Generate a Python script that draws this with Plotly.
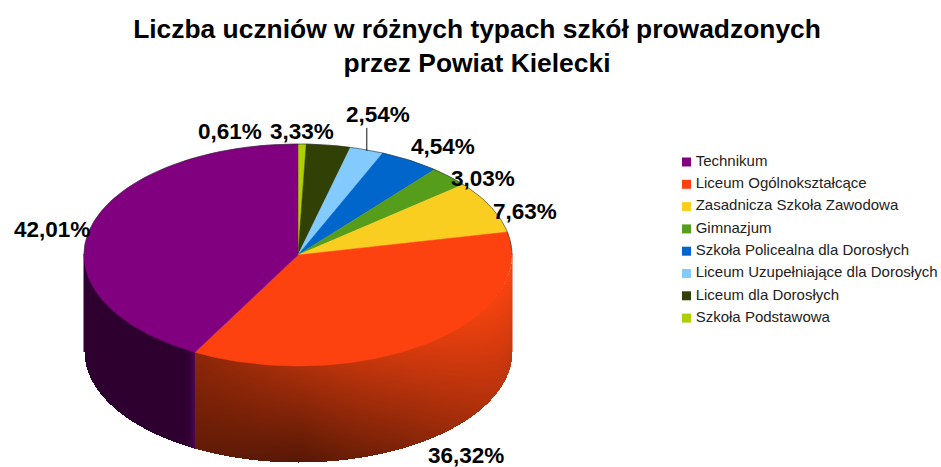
import numpy as np
import plotly.graph_objects as go

title = "Liczba uczniów w różnych typach szkół prowadzonych<br>przez Powiat Kielecki"
categories = ["Szkoła Podstawowa", "Liceum dla Dorosłych", "Liceum Uzupełniające dla Dorosłych",
              "Szkoła Policealna dla Dorosłych", "Gimnazjum", "Zasadnicza Szkoła Zawodowa",
              "Liceum Ogólnokształcące", "Technikum"]
values = [0.61, 3.33, 2.54, 4.54, 3.03, 7.63, 36.32, 42.01]
value_labels = ["0,61%", "3,33%", "2,54%", "4,54%", "3,03%", "7,63%", "36,32%", "42,01%"]
colors = ["#AECF00", "#314004", "#83CAFF", "#0066CC", "#579D1C", "#F9CE20", "#FD4210", "#800080"]

W, H = 941, 467
CX, CY, RX, RY, DEPTH = 298.0, 255.0, 214.0, 111.0, 96.0
label_pos = [(230, 131), (302, 131), (378, 114), (443, 146), (483, 178), (525, 211), (466, 455), (52, 229)]
LEG_X, LEG_TX, LEG_Y0, LEG_DY = 686.5, 695.7, 162, 22.3

def px(t):
    return CX + RX * np.sin(t)
def py(t):
    return CY - RY * np.cos(t)

fracs = np.array(values) / sum(values)
edges = np.concatenate([[0], np.cumsum(fracs)]) * 2 * np.pi
fig = go.Figure()

# side wall: shading field rendered through heatmaps, masked to the wall's outline
gx = np.arange(np.floor(CX - RX), np.ceil(CX + RX) + 1)
gy = np.arange(np.floor(CY) - 2, H + 1)
XX, YY = np.meshgrid(gx, gy)
U = np.clip((XX - CX) / RX, -1, 1)
ytop = CY + RY * np.sqrt(1 - U ** 2)
V = (YY - ytop) / DEPTH
inside = (V >= -0.02) & (V <= 1) & (np.abs(XX - CX) <= RX)
split = px(edges[7])

top_r = np.interp(XX, [197, 300, 400, 512], [140, 172, 208, 250])
bot_r = np.interp(XX, [197, 300, 400, 460, 512], [100, 85, 125, 160, 195])
z_orange = top_r + (bot_r - top_r) * np.clip(V, 0, 1)
z_orange = np.where(inside & (XX >= split), z_orange, np.nan)
fig.add_trace(go.Heatmap(x=gx, y=gy, z=z_orange, zmin=0, zmax=255, showscale=False, hoverinfo="skip",
                         colorscale=[[0, "rgb(0,0,0)"], [1, "rgb(255,70,16)"]]))

z_purple = np.clip((XX - (split - 12)) / 12.0, 0, 1) ** 3
z_purple = np.where(inside & (XX < split), z_purple, np.nan)
fig.add_trace(go.Heatmap(x=gx, y=gy, z=z_purple, zmin=0, zmax=1, showscale=False, hoverinfo="skip",
                         colorscale=[[0, "rgb(46,0,48)"], [1, "rgb(84,10,92)"]]))

# top face
for i, name in enumerate(categories):
    t = np.linspace(edges[i], edges[i + 1], max(3, int(fracs[i] * 300)))
    xs = np.concatenate([[CX], px(t), [CX]])
    ys = np.concatenate([[CY], py(t), [CY]])
    fig.add_trace(go.Scatter(x=xs, y=ys, mode="lines", fill="toself", fillcolor=colors[i],
                             line=dict(color=colors[i], width=0.5), name=name,
                             hoverinfo="name", showlegend=False))

# thin rim along the back of the disc
tb = np.linspace(-np.pi / 2, np.pi / 2, 200)
fig.add_trace(go.Scatter(x=px(tb), y=py(tb), mode="lines", line=dict(color="rgba(40,40,40,0.55)", width=1),
                         hoverinfo="skip", showlegend=False))

# leader line of the 2,54% label
tl = (edges[2] + edges[3]) / 2
fig.add_trace(go.Scatter(x=[px(tl), px(tl)], y=[py(tl) + 1, py(tl) - 22], mode="lines",
                         line=dict(color="#111111", width=1), hoverinfo="skip", showlegend=False))

# legend
for j, i in enumerate(range(len(categories) - 1, -1, -1)):
    y = LEG_Y0 + j * LEG_DY
    fig.add_trace(go.Scatter(x=[LEG_X], y=[y], mode="markers",
                             marker=dict(symbol="square", size=9, color=colors[i], line=dict(width=0)),
                             hoverinfo="skip", showlegend=False, cliponaxis=False))
    fig.add_trace(go.Scatter(x=[LEG_TX], y=[y], mode="text",
                             text=[categories[i]], textposition="middle right",
                             textfont=dict(family="Liberation Sans", size=15, color="#222222"),
                             hoverinfo="skip", showlegend=False, cliponaxis=False))

for lab, (x, y) in zip(value_labels, label_pos):
    fig.add_annotation(x=x, y=y, text="<b>%s</b>" % lab, showarrow=False, xanchor="center", yanchor="middle",
                       font=dict(family="Liberation Sans", size=22.5, color="#000000"))

fig.update_layout(
    width=W, height=H, margin=dict(l=0, r=0, t=0, b=0), autosize=False,
    paper_bgcolor="white", plot_bgcolor="white", showlegend=False,
    title=dict(text="<b>%s</b>" % title, x=477 / W, xanchor="center", y=1 - 38 / H, yanchor="top",
               font=dict(family="Liberation Sans", size=26.4, color="#000000")),
    xaxis=dict(range=[0, W], visible=False, fixedrange=True),
    yaxis=dict(range=[H, 0], visible=False, fixedrange=True),
)
fig.write_html("out.html", config=dict(displayModeBar=False),
               post_script="document.body.style.margin='0';document.documentElement.style.overflow='hidden';")
